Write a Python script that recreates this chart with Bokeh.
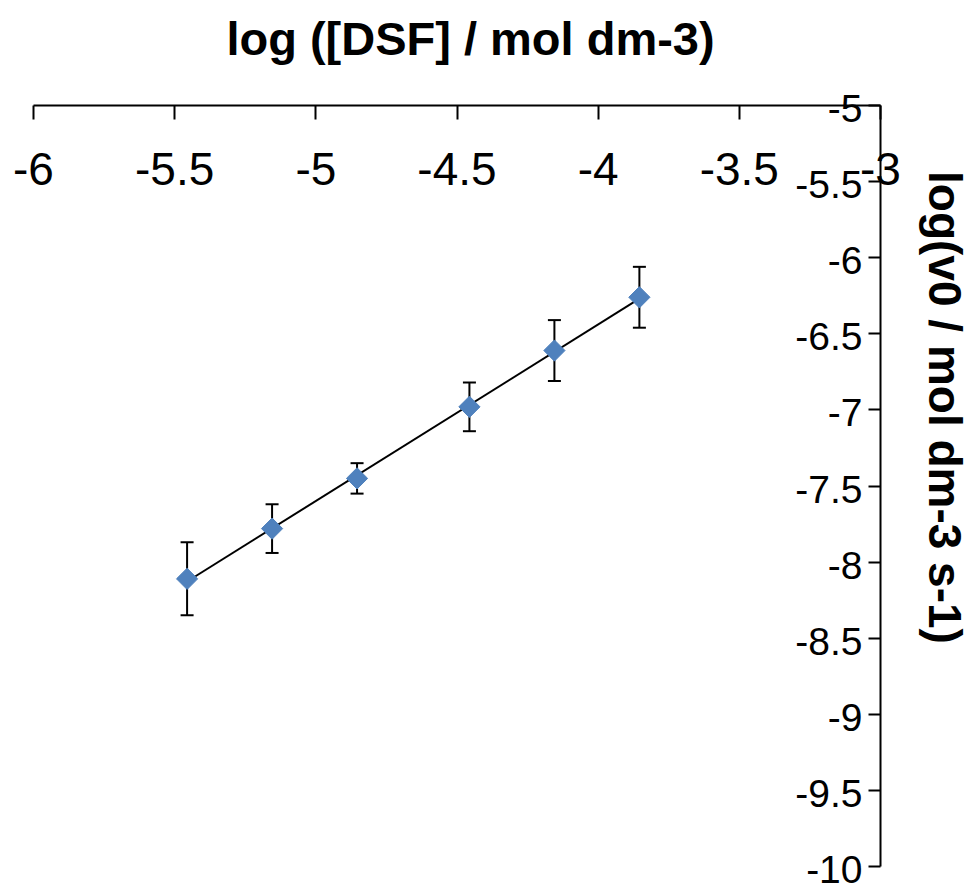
import math
import numpy as np
from bokeh.plotting import figure
from bokeh.core.properties import value
from bokeh.models import (ColumnDataSource, LinearAxis, FixedTicker, Whisker, TeeHead, Label)
from bokeh.embed import file_html
from bokeh.resources import INLINE

# ---- data ----
log_dsf = [-5.456, -5.155, -4.854, -4.456, -4.155, -3.854]
log_v0 = [-8.11, -7.78, -7.45, -6.98, -6.61, -6.26]
err = [0.24, 0.16, 0.10, 0.16, 0.20, 0.20]
x_ticks = [-6, -5.5, -5, -4.5, -4, -3.5, -3]
y_ticks = [-5, -5.5, -6, -6.5, -7, -7.5, -8, -8.5, -9, -9.5, -10]
x_title = "log ([DSF] / mol dm-3)"
y_title = "log(v0 / mol dm-3 s-1)"

X_AXIS = (-6, -3)     # extent of the horizontal axis
Y_AXIS = (-10, -5)    # extent of the vertical axis

FONT = "Liberation Sans"
BLUE = "#4F81BD"
W, H = 975, 891
# pixel anchors of the axes in the picture
PX_LEFT, PX_RIGHT, PX_TOP, PX_BOTTOM = 33, 880, 105, 866
sx = (PX_RIGHT - PX_LEFT) / (X_AXIS[1] - X_AXIS[0])
sy = (PX_BOTTOM - PX_TOP) / (Y_AXIS[1] - Y_AXIS[0])
x_range = (X_AXIS[0] - PX_LEFT / sx, X_AXIS[1] + (W - PX_RIGHT) / sx)
y_range = (Y_AXIS[0] - (H - PX_BOTTOM) / sy, Y_AXIS[1] + PX_TOP / sy)

src = ColumnDataSource(dict(
    x=log_dsf, y=log_v0,
    upper=[a + e for a, e in zip(log_v0, err)],
    lower=[a - e for a, e in zip(log_v0, err)],
))

p = figure(width=W, height=H, x_range=x_range, y_range=y_range,
           output_backend="svg", toolbar_location=None,
           x_axis_location=None, y_axis_location=None,
           min_border_left=0, min_border_right=0,
           min_border_top=0, min_border_bottom=0)
p.outline_line_color = None
p.xgrid.visible = False
p.ygrid.visible = False
p.background_fill_color = "white"
p.border_fill_color = "white"

# horizontal axis drawn at y = -5, labels below the line
xa = LinearAxis(ticker=FixedTicker(ticks=x_ticks), fixed_location=Y_AXIS[1], bounds=X_AXIS)
xa.major_label_overrides = {t: str(t) for t in x_ticks}
xa.major_tick_in = 14
xa.major_tick_out = 0
xa.minor_tick_in = 0
xa.minor_tick_out = 0
xa.major_label_standoff = -79
xa.axis_line_width = 2
xa.major_tick_line_width = 2
xa.major_label_text_font = FONT
xa.major_label_text_font_size = "46px"
xa.major_label_text_color = "black"
p.add_layout(xa, "above")

# vertical axis drawn at x = -3, ticks pointing left
ya = LinearAxis(ticker=FixedTicker(ticks=y_ticks), fixed_location=X_AXIS[1], bounds=Y_AXIS)
ya.major_label_overrides = {t: "" for t in y_ticks}
ya.major_tick_in = 12
ya.major_tick_out = 0
ya.minor_tick_in = 0
ya.minor_tick_out = 0
ya.major_label_standoff = 0
ya.axis_line_width = 2
ya.major_tick_line_width = 2
p.add_layout(ya, "right")

# vertical-axis tick labels, right-aligned on the left of the axis line
p.text(x=[X_AXIS[1]] * len(y_ticks), y=y_ticks, text=[str(t) for t in y_ticks],
       x_offset=-18, y_offset=3, text_align="right", text_baseline="middle",
       text_font=value(FONT), text_font_size="39px", text_color="black")

# error bars
wh = Whisker(source=src, base="x", upper="upper", lower="lower",
             line_color="black", line_width=2, level="underlay",
             upper_head=TeeHead(size=13, line_color="black", line_width=2),
             lower_head=TeeHead(size=13, line_color="black", line_width=2))
p.add_layout(wh)

# linear trend line
slope, intercept = np.polyfit(log_dsf, log_v0, 1)
tx = [log_dsf[0], log_dsf[-1]]
ty = [slope * v + intercept for v in tx]
p.line(tx, ty, line_color="black", line_width=2)

# markers (diamonds)
p.scatter("x", "y", source=src, marker="square", size=15, angle=math.pi / 4,
          fill_color=BLUE, line_color=BLUE)

# titles
p.add_layout(Label(x=X_AXIS[0] + (470 - PX_LEFT) / sx, y=Y_AXIS[1] + (PX_TOP - 38) / sy,
                   text=x_title, text_align="center", text_baseline="middle",
                   text_font=FONT, text_font_size="47px", text_font_style="bold",
                   text_color="black"))
p.add_layout(Label(x=X_AXIS[1] + (944 - PX_RIGHT) / sx, y=Y_AXIS[1] - (407 - PX_TOP) / sy,
                   text=y_title, angle=-math.pi / 2,
                   text_align="center", text_baseline="middle",
                   text_font=FONT, text_font_size="46px", text_font_style="bold",
                   text_color="black"))

open("out.html", "w").write(file_html(p, INLINE))
